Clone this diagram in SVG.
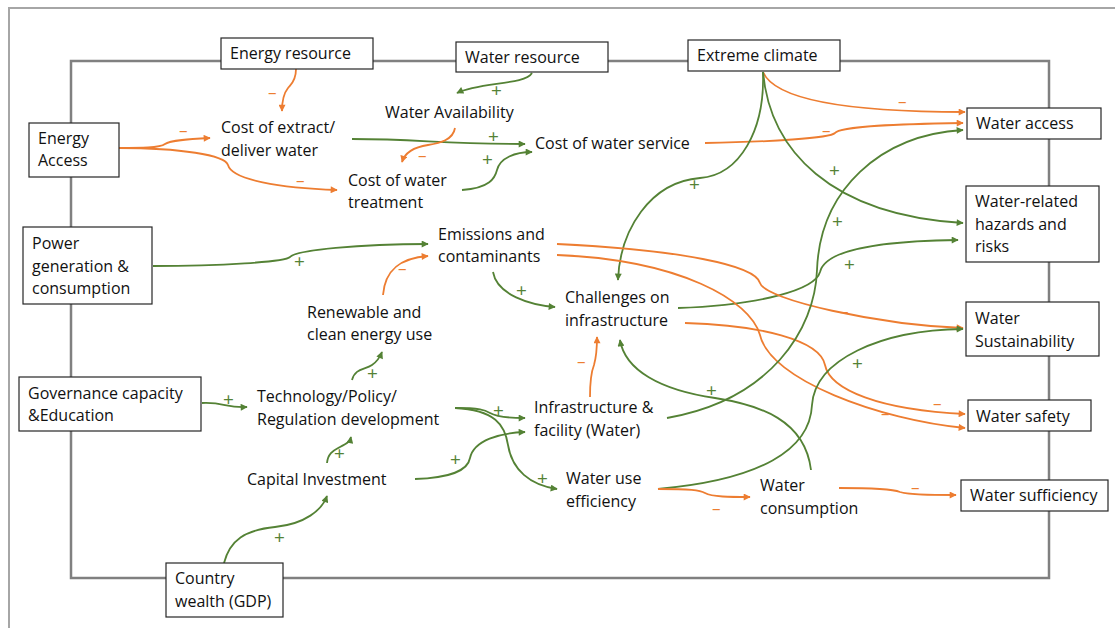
<svg xmlns="http://www.w3.org/2000/svg" width="1115" height="628" viewBox="0 0 1115 628">
<defs>
<marker id="ag" viewBox="0 0 10 10" refX="9" refY="5" markerWidth="8" markerHeight="7" markerUnits="userSpaceOnUse" orient="auto"><path d="M0,0 L10,5 L0,10 z" fill="#548235"/></marker>
<marker id="ao" viewBox="0 0 10 10" refX="9" refY="5" markerWidth="8" markerHeight="7" markerUnits="userSpaceOnUse" orient="auto"><path d="M0,0 L10,5 L0,10 z" fill="#ED7D31"/></marker>
<style>
.frame{fill:none;stroke:#a6a6a6;stroke-width:2}
.sys{fill:none;stroke:#808080;stroke-width:2.5}
.box{fill:#fff;stroke:#262626;stroke-width:1.2}
text{font-family:"Open Sans","Noto Sans",sans-serif;font-size:16px;fill:#111}
.g{fill:none;stroke:#548235;stroke-width:1.8;marker-end:url(#ag)}
.o{fill:none;stroke:#ED7D31;stroke-width:1.8;marker-end:url(#ao)}
.p{fill:#548235;font-size:19px}
.m{fill:#ED7D31;font-size:17px}
</style>
</defs>
<rect width="1115" height="628" fill="#fff"/>
<path class="frame" d="M9,628 L9,8 L1115,8"/>
<rect class="sys" x="71" y="61" width="978" height="517"/>

<g id="connectors">
<path class="o" d="M296,69 C296,82 290,85 288,88 C284,93 282,100 282,111"/>
<path class="o" d="M119,148 C140,148 160,148 165,144 C170,140 190,139 210,138"/>
<path class="o" d="M119,148 C180,148 225,155 228,165 C232,180 280,188 337,190"/>
<path class="g" d="M532,73 C525,85 480,82 457,93"/>
<path class="g" d="M352,139 C420,139 440,144 525,144"/>
<path class="o" d="M455,128 C453,140 440,143 428,145 C415,147 405,152 402,162"/>
<path class="g" d="M462,190 C490,188 495,178 497,170 C500,158 515,152 532,152"/>
<path class="o" d="M705,143 C770,142 830,138 835,133 C840,126 900,124 963,123"/>
<path class="o" d="M763,72 C775,100 850,112 965,112"/>
<path class="g" d="M763,72 C765,130 740,175 700,178 C650,182 620,230 618,280"/>
<path class="g" d="M763,72 C770,150 830,215 963,223"/>
<path class="g" d="M153,266 C220,266 285,262 290,257 C296,250 360,244 428,244"/>
<path class="o" d="M383,295 C385,270 400,258 428,256"/>
<path class="g" d="M352,380 C355,368 365,370 372,365 C378,361 380,357 382,352"/>
<path class="g" d="M202,403 C225,402 225,408 247,407"/>
<path class="g" d="M493,272 C497,295 530,305 555,307"/>
<path class="g" d="M678,308 C760,305 815,290 820,272 C825,250 880,241 958,240"/>
<path class="o" d="M685,323 C760,325 820,340 825,365 C830,390 880,410 965,414"/>
<path class="o" d="M557,244 C680,250 755,265 760,283 C765,300 880,325 963,328"/>
<path class="o" d="M557,255 C680,260 750,300 760,335 C770,380 880,420 965,428"/>
<path class="g" d="M667,418 C770,400 815,330 817,270 C820,190 880,135 963,130"/>
<path class="g" d="M658,489 C760,480 810,450 812,405 C815,360 880,330 963,329"/>
<path class="o" d="M658,489 C690,489 700,490 705,493 C712,497 730,497 750,497"/>
<path class="o" d="M839,488 C880,488 895,490 900,492 C910,495 930,495 956,495"/>
<path class="g" d="M811,470 C805,420 760,405 715,398 C660,390 625,370 620,340"/>
<path class="o" d="M590,397 C590,380 592,370 594,365 C596,358 597,348 597,337"/>
<path class="g" d="M455,408 C480,408 485,410 490,413 C497,417 510,418 525,418"/>
<path class="g" d="M455,408 C495,410 505,425 508,445 C512,470 530,485 557,489"/>
<path class="g" d="M415,479 C450,478 468,470 470,458 C474,440 500,433 525,432"/>
<path class="g" d="M327,463 C328,452 335,450 340,447 C346,444 350,442 351,437"/>
<path class="g" d="M224,563 C230,540 245,530 275,527 C305,524 322,510 327,496"/>
<text class="m" x="268" y="98">–</text>
<text class="m" x="179" y="136">–</text>
<text class="m" x="296" y="186">–</text>
<text class="p" x="491" y="97">+</text>
<text class="p" x="488" y="143">+</text>
<text class="m" x="418" y="161">–</text>
<text class="p" x="482" y="166">+</text>
<text class="m" x="822" y="136">–</text>
<text class="m" x="898" y="107">–</text>
<text class="p" x="689" y="191">+</text>
<text class="p" x="829" y="177">+</text>
<text class="p" x="294" y="268">+</text>
<text class="m" x="398" y="274">–</text>
<text class="p" x="367" y="380">+</text>
<text class="p" x="223" y="406">+</text>
<text class="p" x="516" y="297">+</text>
<text class="p" x="844" y="271">+</text>
<text class="m" x="933" y="409">–</text>
<text class="m" x="840" y="317">–</text>
<text class="m" x="881" y="419">–</text>
<text class="p" x="832" y="228">+</text>
<text class="p" x="852" y="370">+</text>
<text class="m" x="712" y="514">–</text>
<text class="m" x="911" y="493">–</text>
<text class="p" x="706" y="397">+</text>
<text class="m" x="577" y="367">–</text>
<text class="p" x="493" y="417">+</text>
<text class="p" x="537" y="485">+</text>
<text class="p" x="450" y="466">+</text>
<text class="p" x="334" y="460">+</text>
<text class="p" x="274" y="544">+</text>
</g>

<g id="energy-resource"><rect class="box" x="221" y="38" width="152" height="31"/><text x="230" y="59">Energy resource</text></g>
<g id="water-resource"><rect class="box" x="456" y="42" width="152" height="30"/><text x="465" y="63">Water resource</text></g>
<g id="extreme-climate"><rect class="box" x="688" y="40" width="152" height="31"/><text x="697" y="61">Extreme climate</text></g>
<g id="energy-access"><rect class="box" x="29" y="123" width="90" height="54"/><text x="38" y="144">Energy</text><text x="38" y="166">Access</text></g>
<g id="power-generation"><rect class="box" x="23" y="227" width="129" height="77"/><text x="32" y="249">Power</text><text x="32" y="272">generation &amp;</text><text x="32" y="294">consumption</text></g>
<g id="governance"><rect class="box" x="19" y="377" width="182" height="54"/><text x="28" y="399">Governance capacity</text><text x="28" y="421">&amp;Education</text></g>
<g id="country-wealth"><rect class="box" x="166" y="563" width="117" height="54"/><text x="175" y="584">Country</text><text x="175" y="607">wealth (GDP)</text></g>
<g id="water-access"><rect class="box" x="967" y="108" width="134" height="31"/><text x="976" y="129">Water access</text></g>
<g id="water-hazards"><rect class="box" x="966" y="186" width="133" height="76"/><text x="975" y="207">Water-related</text><text x="975" y="230">hazards and</text><text x="975" y="252">risks</text></g>
<g id="water-sustainability"><rect class="box" x="966" y="302" width="133" height="54"/><text x="975" y="324">Water</text><text x="975" y="347">Sustainability</text></g>
<g id="water-safety"><rect class="box" x="968" y="400" width="123" height="31"/><text x="976" y="422">Water safety</text></g>
<g id="water-sufficiency"><rect class="box" x="961" y="480" width="147" height="31"/><text x="970" y="501">Water sufficiency</text></g>

<g id="cost-extract"><text x="221" y="133">Cost of extract/</text><text x="221" y="156">deliver water</text></g>
<g id="water-availability"><text x="385" y="118">Water Availability</text></g>
<g id="cost-service"><text x="535" y="149">Cost of water service</text></g>
<g id="cost-treatment"><text x="348" y="186">Cost of water</text><text x="348" y="208">treatment</text></g>
<g id="emissions"><text x="438" y="240">Emissions and</text><text x="438" y="262">contaminants</text></g>
<g id="renewable"><text x="307" y="318">Renewable and</text><text x="307" y="340">clean energy use</text></g>
<g id="challenges"><text x="565" y="303">Challenges on</text><text x="565" y="326">infrastructure</text></g>
<g id="technology"><text x="257" y="402">Technology/Policy/</text><text x="257" y="425">Regulation development</text></g>
<g id="infrastructure"><text x="534" y="413">Infrastructure &amp;</text><text x="534" y="436">facility (Water)</text></g>
<g id="capital"><text x="247" y="485">Capital Investment</text></g>
<g id="water-use-efficiency"><text x="566" y="484">Water use</text><text x="566" y="507">efficiency</text></g>
<g id="water-consumption"><text x="760" y="491">Water</text><text x="760" y="514">consumption</text></g>
</svg>
